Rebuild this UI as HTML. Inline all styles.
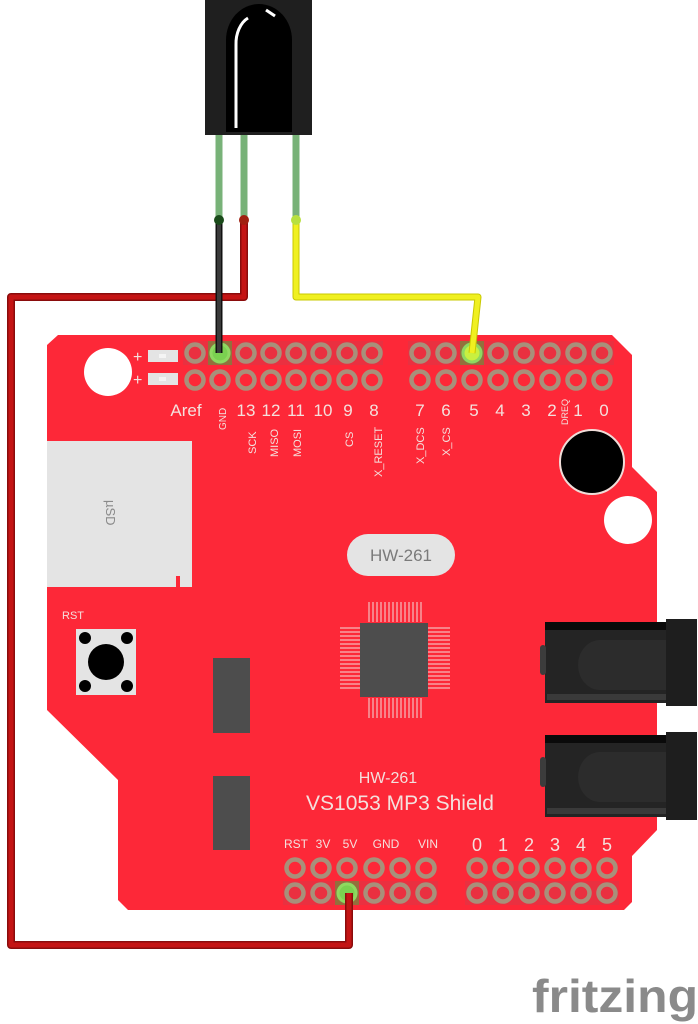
<!DOCTYPE html>
<html><head><meta charset="utf-8"><style>
html,body{margin:0;padding:0;background:#fff;}
svg{display:block;}
text{font-family:"Liberation Sans","DejaVu Sans",sans-serif;}
</style></head><body>
<svg width="698" height="1024" viewBox="0 0 698 1024" xmlns="http://www.w3.org/2000/svg">
<!-- board -->
<path d="M58,335 L612,335 L632,355 L632,467 L657,492 L657,830 L632,856 L632,902 L624,910 L128,910 L118,900 L118,780 L47,710 L47,345 Z" fill="#fd2838"/>
<!-- mounting holes -->
<circle cx="108" cy="372" r="24" fill="#fff"/>
<circle cx="592" cy="462" r="32" fill="#000" stroke="#f0dcd8" stroke-width="2"/>
<circle cx="628" cy="520" r="24" fill="#fff"/>
<!-- LEDs -->
<text x="133" y="362" font-size="16" fill="#f4e0dd">+</text>
<text x="133" y="385" font-size="16" fill="#f4e0dd">+</text>
<rect x="148" y="350" width="30" height="12" fill="#e4e4e4"/>
<rect x="159" y="354" width="7" height="4" fill="#f4f4f4"/>
<rect x="148" y="373" width="30" height="12" fill="#e4e4e4"/>
<rect x="159" y="377" width="7" height="4" fill="#f4f4f4"/>
<!-- SD -->
<path d="M47,441 L192,441 L192,587 L180,587 L180,576 L176,576 L176,587 L47,587 Z" fill="#e4e4e4"/>
<text x="0" y="0" font-size="13" fill="#8a8a8a" transform="translate(106,500) rotate(90)">µSD</text>
<!-- RST -->
<text x="62" y="619" font-size="11" fill="#f4e0dd">RST</text>
<rect x="76" y="629" width="60" height="66" fill="#e4e4e4"/>
<circle cx="106" cy="662" r="18" fill="#000"/>
<circle cx="85" cy="638" r="6" fill="#000"/><circle cx="127" cy="638" r="6" fill="#000"/>
<circle cx="85" cy="686" r="6" fill="#000"/><circle cx="127" cy="686" r="6" fill="#000"/>
<rect x="213" y="658" width="37" height="75" fill="#4d4d4d"/>
<rect x="213" y="776" width="37" height="74" fill="#4d4d4d"/>
<!-- HW-261 pill -->
<rect x="347" y="534" width="108" height="42" rx="21" fill="#e4e4e4"/>
<text x="401" y="561" font-size="17" fill="#7a7a7a" text-anchor="middle">HW-261</text>
<!-- chip -->
<g stroke="#f5a0a4" stroke-width="1.5">
<path d="M369,602v20M373,602v20M377,602v20M381,602v20M385,602v20M389,602v20M393,602v20M397,602v20M401,602v20M405,602v20M409,602v20M413,602v20M417,602v20M421,602v20"/>
<path d="M369,698v20M373,698v20M377,698v20M381,698v20M385,698v20M389,698v20M393,698v20M397,698v20M401,698v20M405,698v20M409,698v20M413,698v20M417,698v20M421,698v20"/>
<path d="M340,628h20M340,632h20M340,636h20M340,640h20M340,644h20M340,648h20M340,652h20M340,656h20M340,660h20M340,664h20M340,668h20M340,672h20M340,676h20M340,680h20M340,684h20M340,688h20"/>
<path d="M428,628h22M428,632h22M428,636h22M428,640h22M428,644h22M428,648h22M428,652h22M428,656h22M428,660h22M428,664h22M428,668h22M428,672h22M428,676h22M428,680h22M428,684h22M428,688h22"/>
</g>
<rect x="360" y="623" width="68" height="74" fill="#4d4d4d"/>
<!-- jacks -->
<g>
<rect x="545" y="622" width="124" height="81" fill="#242424"/>
<rect x="545" y="622" width="124" height="8" fill="#0a0a0a"/>
<rect x="547" y="694" width="120" height="6" fill="#3a3a3a"/>
<path d="M600,640 H668 V690 H600 A22,25 0 0 1 600,640 Z" fill="#2c2c2c"/>
<rect x="540" y="645" width="6" height="30" rx="3" fill="#3c3c3c"/>
<rect x="666" y="619" width="31" height="87" fill="#1e1e1e"/>
<rect x="545" y="735" width="124" height="82" fill="#242424"/>
<rect x="545" y="735" width="124" height="8" fill="#0a0a0a"/>
<rect x="547" y="808" width="120" height="6" fill="#3a3a3a"/>
<path d="M600,752 H668 V802 H600 A22,25 0 0 1 600,752 Z" fill="#2c2c2c"/>
<rect x="540" y="757" width="6" height="30" rx="3" fill="#3c3c3c"/>
<rect x="666" y="732" width="31" height="88" fill="#1e1e1e"/>
</g>
<!-- titles -->
<text x="388" y="783" font-size="16" fill="#f4e0dd" text-anchor="middle">HW-261</text>
<text x="400" y="810" font-size="21" fill="#f4e0dd" text-anchor="middle">VS1053 MP3 Shield</text>
<!-- pad squares -->
<g fill="#ea3040">
<rect x="183" y="341" width="200" height="24"/>
<rect x="408" y="341" width="206" height="24"/>
<rect x="283" y="881" width="155" height="24"/>
<rect x="465" y="881" width="154" height="24"/>
</g>
<!-- headers -->
<g fill="none" stroke="#a8907a" stroke-width="4.5">
<circle cx="195" cy="353" r="8.5"/><circle cx="220" cy="353" r="8.5"/><circle cx="246" cy="353" r="8.5"/><circle cx="271" cy="353" r="8.5"/><circle cx="296" cy="353" r="8.5"/><circle cx="321" cy="353" r="8.5"/><circle cx="347" cy="353" r="8.5"/><circle cx="372" cy="353" r="8.5"/>
<circle cx="420" cy="353" r="8.5"/><circle cx="446" cy="353" r="8.5"/><circle cx="472" cy="353" r="8.5"/><circle cx="498" cy="353" r="8.5"/><circle cx="524" cy="353" r="8.5"/><circle cx="550" cy="353" r="8.5"/><circle cx="576" cy="353" r="8.5"/><circle cx="602" cy="353" r="8.5"/>
<circle cx="195" cy="380" r="8.5"/><circle cx="220" cy="380" r="8.5"/><circle cx="246" cy="380" r="8.5"/><circle cx="271" cy="380" r="8.5"/><circle cx="296" cy="380" r="8.5"/><circle cx="321" cy="380" r="8.5"/><circle cx="347" cy="380" r="8.5"/><circle cx="372" cy="380" r="8.5"/>
<circle cx="420" cy="380" r="8.5"/><circle cx="446" cy="380" r="8.5"/><circle cx="472" cy="380" r="8.5"/><circle cx="498" cy="380" r="8.5"/><circle cx="524" cy="380" r="8.5"/><circle cx="550" cy="380" r="8.5"/><circle cx="576" cy="380" r="8.5"/><circle cx="602" cy="380" r="8.5"/>
<circle cx="295" cy="868" r="8.5"/><circle cx="321" cy="868" r="8.5"/><circle cx="347" cy="868" r="8.5"/><circle cx="374" cy="868" r="8.5"/><circle cx="400" cy="868" r="8.5"/><circle cx="426" cy="868" r="8.5"/>
<circle cx="477" cy="868" r="8.5"/><circle cx="503" cy="868" r="8.5"/><circle cx="529" cy="868" r="8.5"/><circle cx="555" cy="868" r="8.5"/><circle cx="581" cy="868" r="8.5"/><circle cx="607" cy="868" r="8.5"/>
<circle cx="295" cy="893" r="8.5"/><circle cx="321" cy="893" r="8.5"/><circle cx="347" cy="893" r="8.5"/><circle cx="374" cy="893" r="8.5"/><circle cx="400" cy="893" r="8.5"/><circle cx="426" cy="893" r="8.5"/>
<circle cx="477" cy="893" r="8.5"/><circle cx="503" cy="893" r="8.5"/><circle cx="529" cy="893" r="8.5"/><circle cx="555" cy="893" r="8.5"/><circle cx="581" cy="893" r="8.5"/><circle cx="607" cy="893" r="8.5"/>
</g>
<!-- connected pin highlights -->
<rect x="208" y="341" width="24" height="24" fill="#5a9a3a" opacity="0.6"/>
<circle cx="220" cy="353" r="9" fill="#7ad050" stroke="#8fd860" stroke-width="3"/>
<rect x="460" y="341" width="24" height="24" fill="#5a9a3a" opacity="0.6"/>
<circle cx="472" cy="353" r="9" fill="#c8f040" stroke="#8fd860" stroke-width="3"/>
<rect x="335" y="881" width="24" height="24" fill="#5a9a3a" opacity="0.6"/>
<circle cx="347" cy="893" r="9" fill="#7ad050" stroke="#8fd860" stroke-width="3"/>
<!-- labels -->
<g fill="#f4e0dd" font-size="17" text-anchor="middle">
<text x="186" y="416">Aref</text>
<text x="246" y="416">13</text><text x="271" y="416">12</text><text x="296" y="416">11</text><text x="323" y="416">10</text>
<text x="348" y="416">9</text><text x="374" y="416">8</text>
<text x="420" y="416">7</text><text x="446" y="416">6</text><text x="474" y="416">5</text><text x="500" y="416">4</text><text x="526" y="416">3</text><text x="552" y="416">2</text><text x="578" y="416">1</text><text x="604" y="416">0</text>
</g>
<g fill="#f4e0dd" font-size="11">
<text transform="translate(226,430) rotate(-90)" font-size="10">GND</text>
<text transform="translate(256,454) rotate(-90)">SCK</text>
<text transform="translate(278,457) rotate(-90)">MISO</text>
<text transform="translate(301,457) rotate(-90)">MOSI</text>
<text transform="translate(353,447) rotate(-90)">CS</text>
<text transform="translate(382,477) rotate(-90)">X_RESET</text>
<text transform="translate(424,464) rotate(-90)">X_DCS</text>
<text transform="translate(450,456) rotate(-90)">X_CS</text>
<text transform="translate(568,425) rotate(-90)" font-size="9">DREQ</text>
</g>
<g fill="#f4e0dd" font-size="12" text-anchor="middle">
<text x="296" y="848">RST</text><text x="323" y="848">3V</text><text x="350" y="848">5V</text><text x="386" y="848">GND</text><text x="428" y="848">VIN</text>
</g>
<g fill="#f4e0dd" font-size="18" text-anchor="middle">
<text x="477" y="851">0</text><text x="503" y="851">1</text><text x="529" y="851">2</text><text x="555" y="851">3</text><text x="581" y="851">4</text><text x="607" y="851">5</text>
</g>
<!-- IR receiver -->
<rect x="205" y="0" width="107" height="135" fill="#1f1f1f"/>
<path d="M226,132 V40 A33,36 0 0 1 292,40 V132 Z" fill="#000"/>
<path d="M236,128 V45 A20,28 0 0 1 248,18" fill="none" stroke="#fff" stroke-width="3"/>
<path d="M266,10 L275,16" stroke="#fff" stroke-width="3"/>
<g stroke="#6aaa6a" stroke-width="7" opacity="0.9">
<line x1="219" y1="135" x2="219" y2="220"/><line x1="244" y1="135" x2="244" y2="220"/><line x1="296" y1="135" x2="296" y2="220"/>
</g>
<!-- wires -->
<path d="M244,220 V297 H11 V945 H349 V893" fill="none" stroke="#8a0c0c" stroke-width="8" stroke-linejoin="round"/>
<path d="M244,220 V297 H11 V945 H349 V893" fill="none" stroke="#c41414" stroke-width="5" stroke-linejoin="round"/>
<path d="M296,220 V297 H478 L472,353" fill="none" stroke="#c8c800" stroke-width="7" stroke-linejoin="round"/>
<path d="M296,220 V297 H478 L472,353" fill="none" stroke="#f0f020" stroke-width="5" stroke-linejoin="round"/>
<path d="M219,220 V353" fill="none" stroke="#111" stroke-width="7"/>
<path d="M219,220 V353" fill="none" stroke="#3a3a3a" stroke-width="4"/>
<circle cx="219" cy="220" r="5" fill="#1a4a1a"/>
<circle cx="244" cy="220" r="5" fill="#a02010"/>
<circle cx="296" cy="220" r="5" fill="#b8e040"/>
<!-- fritzing logo -->
<text x="532" y="1012" font-size="46" font-weight="bold" fill="#8a8a8a" font-family="'DejaVu Sans','Liberation Sans',sans-serif" textLength="166" lengthAdjust="spacingAndGlyphs">fritzing</text>
</svg>
</body></html>
